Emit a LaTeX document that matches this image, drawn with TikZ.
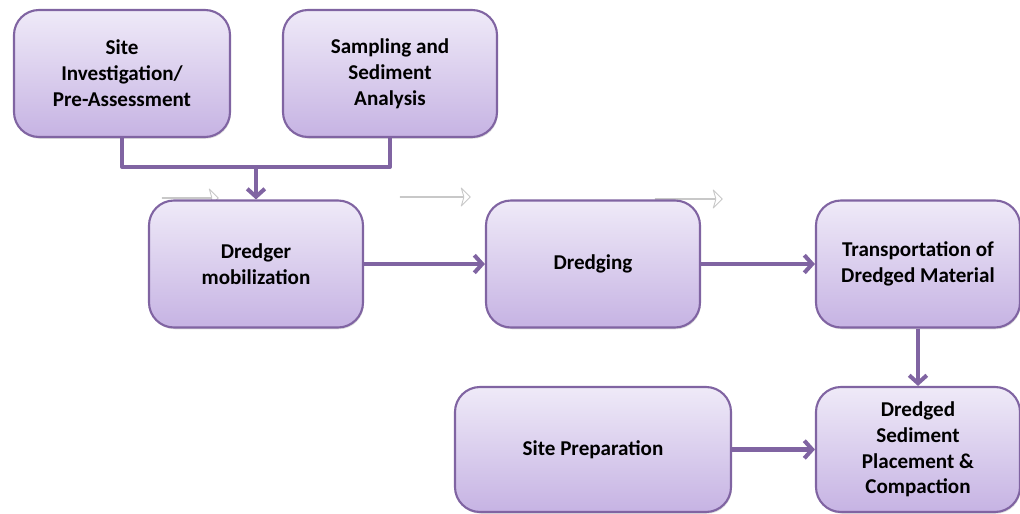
\documentclass[tikz,border=0pt]{standalone}
\usepackage{fontspec}
\setmainfont{Carlito}
\usetikzlibrary{arrows.meta,shapes.arrows,shadows}
\definecolor{boxline}{HTML}{8064A2}
\definecolor{boxtop}{HTML}{EFEAF8}
\definecolor{boxbot}{HTML}{C6B3E3}
\definecolor{ghost}{HTML}{C8C8C8}
\begin{document}
\begin{tikzpicture}[font=\fontsize{12}{14.7}\selectfont\bfseries, line join=round,
	stepbox/.style={draw=boxline, line width=1.2pt, rounded corners=0.5cm, top color=boxtop, bottom color=boxbot,
		minimum height=2.54cm, align=center, drop shadow={opacity=0.25, shadow xshift=0.5pt, shadow yshift=-1pt}},
	link/.style={draw=boxline, line width=2.3pt},
	ghostarrow/.style={single arrow, draw=ghost, fill=white, line width=0.5pt, minimum height=#1,
		minimum width=0.36cm, single arrow head extend=0.14cm, inner sep=0pt, single arrow head indent=0.05cm},
	>={Straight Barb[length=4.5pt, width=10pt]}]
		\node[ghostarrow=1.12cm] (ghostA) at (3.8,-3.96) {};
		\node[ghostarrow=1.4cm] (ghostB) at (8.7,-3.94) {};
		\node[ghostarrow=1.34cm] (ghostC) at (13.77,-3.98) {};
		\node[stepbox, minimum width=4.32cm] (site) at (2.44,-1.47) {Site\\Investigation/\\Pre-Assessment};
		\node[stepbox, minimum width=4.28cm] (sampling) at (7.80,-1.47) {Sampling and\\Sediment\\Analysis};
		\node[stepbox, minimum width=4.28cm] (mobil) at (5.12,-5.28) {Dredger\\mobilization};
		\node[stepbox, minimum width=4.28cm] (dredging) at (11.86,-5.28) {Dredging};
		\node[stepbox, minimum width=4.08cm] (transport) at (18.36,-5.28) {Transportation of\\Dredged Material};
		\node[stepbox, minimum width=5.52cm, minimum height=2.5cm] (siteprep) at (11.86,-8.99) {Site Preparation};
		\node[stepbox, minimum width=4.08cm, minimum height=2.5cm] (sediment) at (18.36,-8.99) {Dredged\\Sediment\\Placement \&\\Compaction};
		\coordinate (join) at (mobil.north |- 0,-3.34);
		\draw[link] (site.south) |- (join) -| (sampling.south);
		\draw[link, ->] (join) -- (mobil.north);
		\draw[link, ->] (mobil) -- (dredging);
		\draw[link, ->] (dredging) -- (transport);
		\draw[link, ->] (transport) -- (sediment);
		\draw[link, ->] (siteprep) -- (sediment);
		\pgfresetboundingbox
		\useasboundingbox (0,0) rectangle (20.4,-10.28);
\end{tikzpicture}
\end{document}
